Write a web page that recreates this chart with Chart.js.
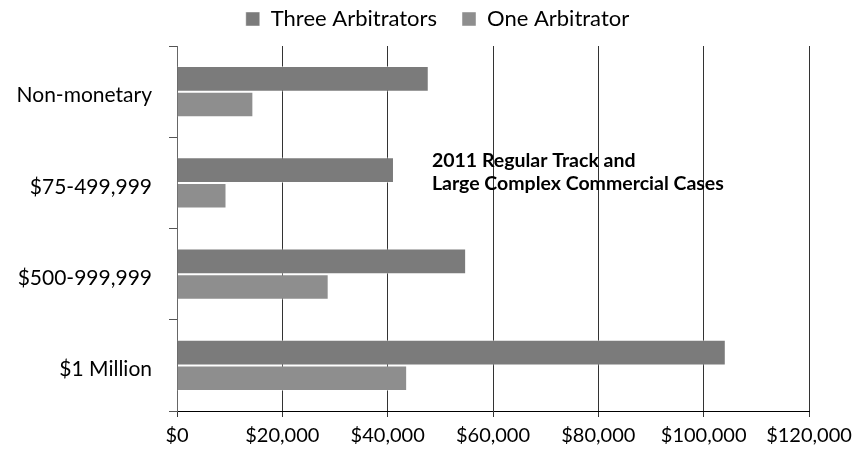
<!DOCTYPE html>
<html>
<head>
<meta charset="utf-8">
<script src="https://cdn.jsdelivr.net/npm/chart.js@4.4.1/dist/chart.umd.min.js"></script>
<style>
  html, body { margin: 0; padding: 0; background: #ffffff; }
  #wrap { width: 855px; height: 457px; position: relative; }
</style>
</head>
<body>
<div id="wrap"><canvas id="c" width="855" height="457"></canvas></div>
<script>
const categories = ['Non-monetary', '$75-499,999', '$500-999,999', '$1 Million'];
const threeArbitrators = [47800, 41200, 54900, 104200];
const oneArbitrator = [14500, 9400, 28800, 43700];
const xMin = 0, xMax = 120000, xStep = 20000;
const annotationLines = ['2011 Regular Track and', 'Large Complex Commercial Cases'];
const annotationValue = 48400;

const FONT = 'Lato, "Open Sans", sans-serif';

const layoutFix = {
  id: 'layoutFix',
  afterInit(chart) {
    const lg = chart.legend;
    const fit = lg.fit;
    lg.fit = function () { fit.call(this); this.height = 46; };
    const draw = lg.draw;
    lg.draw = function () {
      const c = this.ctx; c.save(); c.translate(33, -17); draw.apply(this, arguments); c.restore();
    };
  }
};

const annotation = {
  id: 'annotation',
  afterDraw(chart) {
    const { ctx, scales } = chart;
    const x = scales.x.getPixelForValue(annotationValue);
    const yc = scales.y.getPixelForValue(1);
    ctx.save();
    ctx.font = 'bold 19.5px ' + FONT;
    ctx.fillStyle = '#000';
    ctx.textBaseline = 'middle';
    ctx.textAlign = 'left';
    ctx.fillText(annotationLines[0], x, yc - 22);
    ctx.fillText(annotationLines[1], x, yc + 1);
    ctx.restore();
  }
};

new Chart(document.getElementById('c'), {
  type: 'bar',
  data: {
    labels: categories,
    datasets: [
      { label: 'Three Arbitrators', data: threeArbitrators, backgroundColor: '#7b7b7b',
        borderColor: 'rgba(255,255,255,0.45)', borderWidth: 1,
        categoryPercentage: 0.56, barPercentage: 1.0 },
      { label: 'One Arbitrator', data: oneArbitrator, backgroundColor: '#8e8e8e',
        borderColor: 'rgba(255,255,255,0.45)', borderWidth: 1,
        categoryPercentage: 0.56, barPercentage: 1.0 }
    ]
  },
  options: {
    indexAxis: 'y',
    responsive: false,
    animation: false,
    layout: { padding: { left: 0, right: 46, top: 0, bottom: 0 } },
    plugins: {
      legend: {
        position: 'top',
        labels: {
          boxWidth: 14, boxHeight: 14, padding: 25,
          color: '#000',
          font: { family: FONT, size: 22 }
        }
      },
      tooltip: { enabled: false }
    },
    scales: {
      x: {
        min: xMin, max: xMax,
        ticks: {
          stepSize: xStep,
          color: '#000',
          padding: 7,
          font: { family: FONT, size: 20 },
          maxRotation: 0,
          callback: v => '$' + Number(v).toLocaleString('en-US')
        },
        grid: { color: '#333333', lineWidth: 1, tickLength: 6, drawTicks: true },
        border: { color: '#000', width: 1 },
        afterFit(s) { s.height = 46; s.paddingRight = 0; s.paddingLeft = 0; }
      },
      y: {
        ticks: { color: '#000', padding: 17, labelOffset: 4, font: { family: FONT, size: 21 } },
        grid: { drawOnChartArea: false, drawTicks: true, tickLength: 8, color: '#555', offset: true },
        border: { color: '#666', width: 1 },
        afterFit(s) { s.width = 177; }
      }
    }
  },
  plugins: [layoutFix, annotation]
});
</script>
</body>
</html>
